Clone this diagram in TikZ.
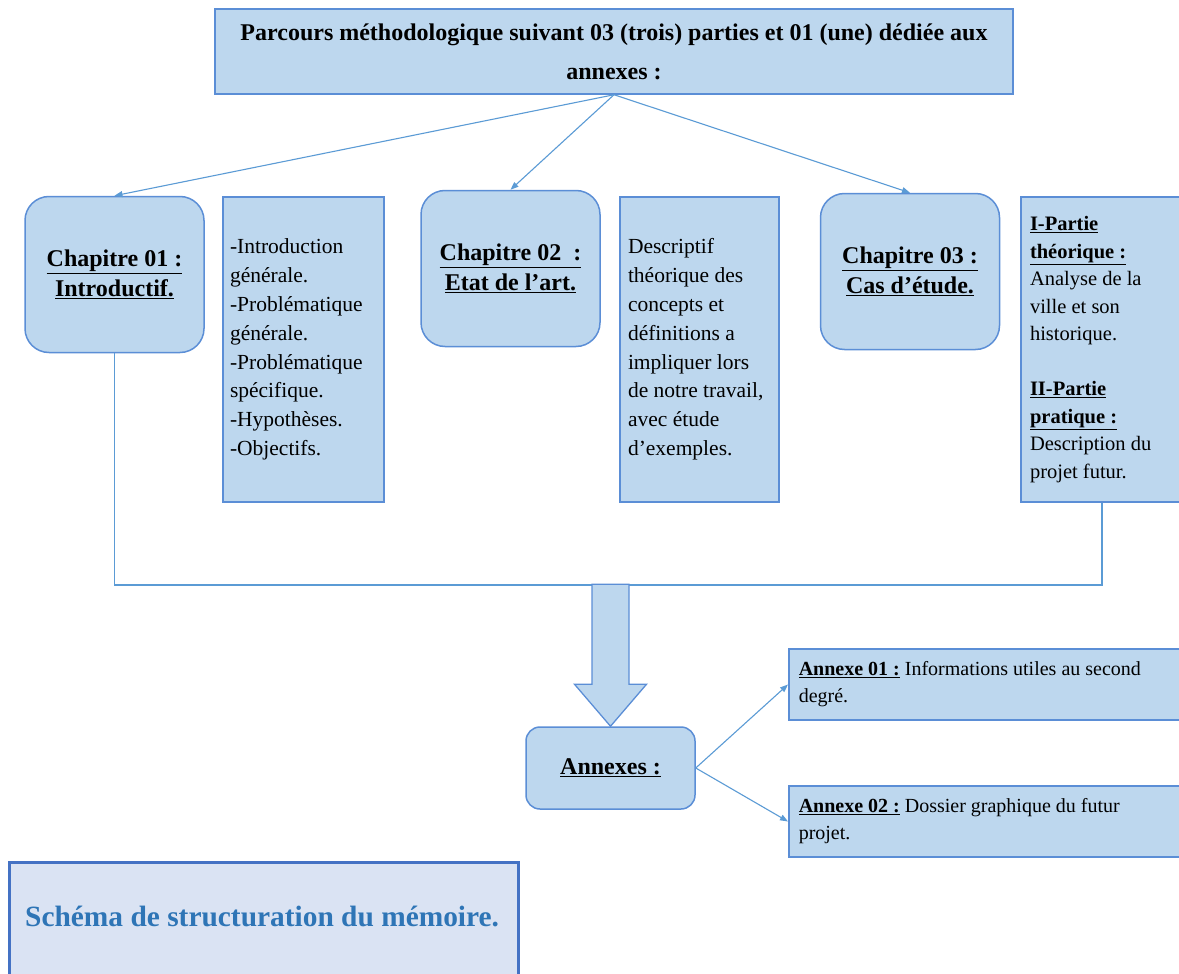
\documentclass[tikz,border=0pt]{standalone}
\usepackage{fontspec}
\setmainfont{Liberation Serif}
\usetikzlibrary{arrows.meta}
\definecolor{boxfill}{HTML}{BDD7EE}
\definecolor{boxline}{HTML}{5B8ED6}
\definecolor{connblue}{HTML}{5B9BD5}
\definecolor{capfill}{HTML}{DAE3F3}
\definecolor{capline}{HTML}{4472C4}
\definecolor{captext}{HTML}{2E75B6}
\begin{document}
\begin{tikzpicture}[x=1pt,y=-1pt,
 rectbox/.style={draw=boxline, fill=boxfill, line width=1.5pt, inner sep=0pt},
 chapbox/.style={draw=boxline, fill=boxfill, line width=1.5pt, rounded corners=24pt, minimum width=179pt, minimum height=156pt, align=center, font=\fontsize{24}{30}\selectfont\bfseries, inner sep=0pt},
 listbox/.style={rectbox, minimum height=305pt, align=flush left, font=\fontsize{21.5}{28.8}\selectfont},
 connline/.style={draw=connblue, line width=1.1pt},
 arr/.style={connline, -{Triangle[length=8pt,width=6pt]}},
 blockarrow/.style={draw=boxline, fill=boxfill, line width=1.3pt}
]
\path[use as bounding box, fill=white] (0,0) rectangle (1179,974);

% top box
\node[rectbox, minimum width=798pt, minimum height=85pt, align=center, font=\fontsize{24}{39}\selectfont\bfseries] (top) at (614,51.5)
 {Parcours méthodologique suivant 03 (trois) parties et 01 (une) dédiée aux\\annexes :};

% chapter boxes
\node[chapbox] (ch1) at (114.5,274.5) {\underline{Chapitre 01 :}\\\underline{Introductif.}};
\node[chapbox] (ch2) at (510.5,268.5) {\underline{Chapitre 02\ \ :}\\\underline{Etat de l’art.}};
\node[chapbox] (ch3) at (910,271.5) {\underline{Chapitre 03 :}\\\underline{Cas d’étude.}};

% description boxes
\node[listbox, minimum width=161pt, text width=147pt] (b1) at (303.5,349.5)
 {-Introduction\\générale.\\-Problématique\\générale.\\-Problématique\\spécifique.\\-Hypothèses.\\-Objectifs.};
\node[listbox, minimum width=159pt, text width=143pt] (b2) at (699.5,349.5)
 {Descriptif\\théorique des\\concepts et\\définitions a\\impliquer lors\\de notre travail,\\avec étude\\d’exemples.};
\node[listbox, minimum width=162pt, text width=144pt, font=\fontsize{20.5}{27.5}\selectfont] (b3) at (1102,349.5)
 {\textbf{\underline{I-Partie}}\\\textbf{\underline{théorique :}}\\Analyse de la\\ville et son\\historique.\\[27.5pt]\textbf{\underline{II-Partie}}\\\textbf{\underline{pratique :}}\\Description du\\projet futur.};

% arrows from top
\draw[arr] (top.south) -- (ch1.north);
\draw[arr] (top.south) -- (ch2.north);
\draw[arr] (top.south) -- (ch3.north);

% collecting line
\coordinate (hl) at (0,585);
\draw[connline] (ch1.south) -- (ch1.south |- hl) -- (b3.south |- hl) -- (b3.south);

% annexes
\node[chapbox, rounded corners=14pt, minimum width=169pt, minimum height=82pt] (anx) at (610.5,768) {\underline{Annexes :}};
\draw[blockarrow] (anx.north) -- ++(-36,-42) -- ++(17.5,0) -- ++(0,-100) -- ++(37,0) -- ++(0,100) -- ++(17.5,0) -- cycle;

\node[rectbox, anchor=west, minimum width=400pt, minimum height=71pt, text width=380pt, align=flush left, font=\fontsize{20}{27}\selectfont] (a1) at (788,684.5)
 {\textbf{\underline{Annexe 01 :}} Informations utiles au second\\degré.};
\node[rectbox, anchor=west, minimum width=400pt, minimum height=71pt, text width=380pt, align=flush left, font=\fontsize{20}{27}\selectfont] (a2) at (788,821.5)
 {\textbf{\underline{Annexe 02 :}} Dossier graphique du futur\\projet.};
\draw[arr] (anx.east) -- (a1.west);
\draw[arr] (anx.east) -- (a2.west);

% caption
\node[draw=capline, fill=capfill, line width=3pt, minimum width=509pt, minimum height=125pt, anchor=north west, inner sep=0pt] (cap) at (8,861) {};
\node[anchor=west, text=captext, font=\fontsize{29.4}{34}\selectfont\bfseries, inner sep=0pt] (captxt) at (25,916) {Schéma de structuration du mémoire.};
\end{tikzpicture}
\end{document}
